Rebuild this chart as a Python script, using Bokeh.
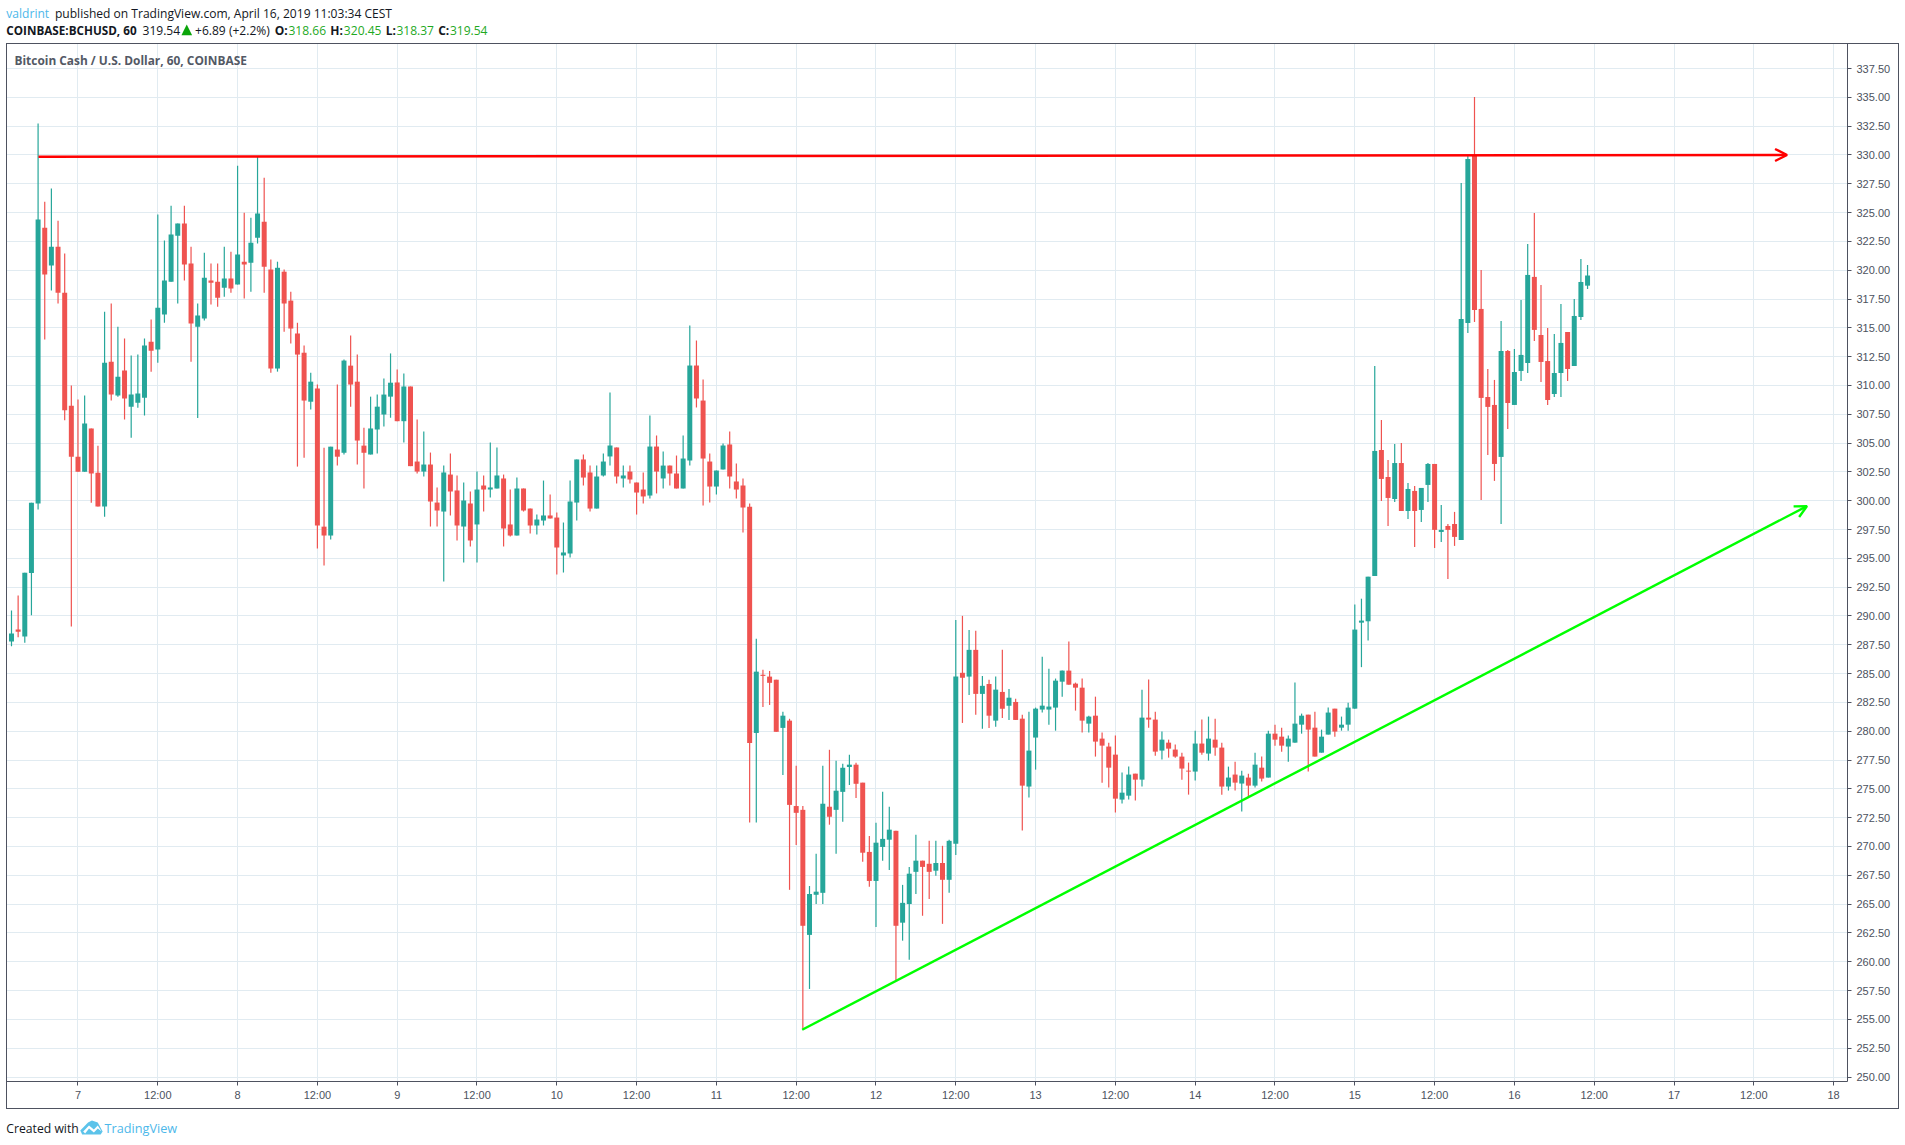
from bokeh.embed import file_html
from bokeh.resources import INLINE
from bokeh.plotting import figure
from bokeh.layouts import column
from bokeh.models import (ColumnDataSource, FixedTicker, NumeralTickFormatter, Label, Arrow, OpenHead,
                          Range1d, Div)

# ---- data -------------------------------------------------------------------
first_hour = -10  # first candle, hours relative to April 7, 00:00
opens = [287.78,288.83,288.21,293.72,299.76,323.68,320.40,322.04,318.04,308.25,
303.82,302.52,306.27,302.43,299.49,312.06,309.12,311.29,308.16,308.50,
308.93,313.80,313.12,316.15,319.00,323.00,324.05,320.58,315.10,315.81,
319.10,319.00,318.48,319.28,318.76,320.74,320.65,322.81,324.21,320.06,
311.47,319.87,317.36,314.51,312.84,308.59,309.74,297.75,296.98,304.44,
304.16,311.72,310.33,304.78,304.01,306.18,307.48,309.03,310.26,306.90,
309.91,303.40,302.53,303.14,299.84,299.06,302.27,300.89,297.76,299.76,
297.94,301.32,300.97,301.06,301.93,297.94,296.98,301.06,299.32,297.85,
298.28,298.72,298.54,295.25,295.42,299.84,303.58,302.45,299.32,302.19,
303.84,304.62,301.93,302.53,301.58,300.97,300.45,304.70,301.93,303.05,
302.36,301.06,303.49,311.73,308.69,303.40,301.23,302.71,304.88,301.67,
301.32,299.48,279.85,284.90,284.74,284.47,280.29,280.92,273.51,273.18,
262.33,265.81,265.98,273.45,273.18,274.74,276.90,277.10,275.54,269.53,
267.01,269.96,270.59,271.36,263.39,265.01,267.80,268.77,268.50,267.90,
268.57,267.11,270.23,285.07,284.74,287.06,283.24,284.10,280.92,283.41,
282.21,282.54,281.09,275.20,279.45,281.88,281.88,282.05,284.30,285.26,
284.13,283.78,280.66,281.35,279.36,278.67,277.97,274.07,274.41,276.32,
275.80,281.18,281.01,278.32,279.01,278.41,277.80,276.58,276.50,278.93,
278.06,279.27,278.58,275.20,276.24,275.46,275.98,275.28,276.84,275.98,
279.79,279.53,278.67,279.01,280.57,281.44,280.31,278.14,279.71,281.96,
280.31,280.57,281.96,289.42,289.54,293.47,304.40,302.06,300.15,303.27,
299.11,300.85,299.20,301.37,303.19,297.29,297.81,297.98,296.60,315.42,
330.00,316.64,309.00,308.31,303.80,312.99,308.31,311.26,311.95,319.42,
314.38,312.12,309.26,311.08,314.64,311.69,315.94,318.66]
highs = [290.47,291.77,293.75,299.83,332.73,325.94,327.09,324.30,321.45,309.99,
308.78,309.12,306.27,304.78,316.40,317.11,315.10,314.08,312.59,312.68,
314.08,315.72,324.83,322.57,325.60,324.05,325.60,322.04,317.11,321.51,
320.58,320.58,322.04,321.61,329.07,324.98,324.55,329.91,328.02,320.92,
320.74,320.06,318.14,315.44,313.46,311.10,310.08,304.60,304.69,310.08,
312.25,314.33,312.68,306.33,309.03,309.21,310.61,312.78,311.38,311.04,
309.91,307.05,306.00,304.18,301.15,303.05,304.10,302.19,301.58,300.80,
302.53,302.19,305.05,304.62,302.27,300.97,302.01,301.06,299.32,298.80,
301.75,300.54,298.98,298.11,301.75,303.58,304.01,303.05,303.05,304.10,
309.39,304.62,303.05,303.05,301.58,302.45,307.39,305.66,304.27,303.05,
303.92,305.66,315.20,313.90,310.52,304.10,302.62,304.96,306.00,303.23,
301.93,299.76,288.02,285.33,285.23,284.47,281.68,281.08,277.00,273.51,
266.57,269.36,277.00,278.39,277.43,277.17,277.96,277.27,275.54,270.92,
272.05,274.74,273.45,271.36,266.67,268.23,271.02,268.77,270.49,270.49,
270.06,270.59,289.65,290.01,288.79,288.72,284.80,284.47,284.74,287.06,
283.67,282.81,281.44,281.70,282.05,286.47,285.43,284.57,285.26,287.78,
284.22,284.57,281.35,283.00,279.88,279.01,279.62,276.41,276.93,276.32,
283.61,284.48,281.70,279.97,279.27,278.84,278.14,277.28,280.05,281.01,
281.27,281.09,279.01,276.93,277.36,276.58,276.32,278.14,277.80,280.05,
280.57,280.31,279.62,284.22,281.53,281.44,281.70,280.14,282.05,281.96,
281.27,282.48,290.99,291.50,293.41,311.69,307.01,303.53,304.93,305.01,
301.54,301.28,301.11,303.27,303.19,299.63,297.98,299.03,327.57,330.00,
335.03,320.02,311.43,310.48,315.60,313.08,313.17,317.42,322.28,324.97,
318.72,314.99,314.47,317.07,314.64,317.51,320.98,320.45]
lows = [287.37,288.15,287.68,290.07,299.24,313.98,318.23,317.11,306.98,289.08,
302.52,302.52,299.83,299.49,298.62,308.69,309.03,307.04,305.46,308.07,
307.39,311.20,311.97,315.44,319.00,317.11,319.10,312.06,307.17,315.63,
317.02,316.83,317.70,318.04,318.76,317.55,318.14,322.32,318.04,311.10,
311.20,314.67,313.64,302.96,303.73,307.91,295.86,294.37,296.64,303.05,
304.01,308.16,303.14,301.07,304.01,304.10,306.43,307.20,306.90,305.05,
303.00,302.36,302.10,297.76,297.76,292.99,298.72,296.55,294.64,296.03,
294.64,299.06,300.28,301.06,296.03,296.89,296.98,299.06,297.16,297.07,
297.85,298.46,293.60,293.77,295.07,298.28,301.32,299.06,299.32,302.10,
303.05,301.49,301.15,301.49,298.80,299.76,300.19,300.63,301.06,301.32,
301.06,301.06,303.05,308.09,299.58,299.84,300.54,302.71,301.06,300.19,
297.24,272.09,272.09,282.11,282.28,279.95,276.20,266.24,270.13,254.19,
257.64,265.01,265.01,271.89,269.36,272.15,275.34,274.21,268.67,266.51,
263.02,268.77,267.97,258.31,261.83,260.17,265.88,263.99,265.45,267.47,
263.29,265.98,269.26,280.72,283.14,281.42,280.22,280.29,280.39,281.15,
280.98,280.98,271.38,274.24,276.67,281.62,280.57,280.05,283.00,284.04,
281.79,279.88,279.88,277.80,275.54,275.11,272.94,273.72,274.07,273.98,
275.20,280.31,277.88,277.54,277.71,277.71,275.80,274.50,275.72,277.97,
277.45,277.88,274.50,274.85,274.85,273.03,274.33,275.11,275.63,275.98,
278.75,278.23,277.36,279.01,279.79,276.50,277.80,278.14,279.71,279.53,
280.05,280.05,281.96,285.56,287.87,293.47,299.98,297.81,299.89,299.11,
298.42,295.99,298.16,299.89,295.90,296.42,293.21,296.08,296.60,314.56,
315.51,300.07,303.97,301.72,297.98,306.23,308.31,310.39,311.08,313.86,
310.31,308.31,309.00,309.00,310.39,311.69,315.68,318.37]
closes = [288.49,288.64,293.75,299.83,324.39,319.62,322.04,318.04,307.85,303.82,
302.52,306.70,302.37,299.49,311.97,309.21,310.76,308.87,309.21,309.31,
313.46,313.02,316.74,319.10,323.09,324.05,320.49,315.38,316.06,319.34,
318.91,317.61,319.28,318.41,321.36,320.49,322.38,324.92,320.30,311.47,
320.21,317.11,314.94,312.68,308.69,310.33,297.84,296.98,304.69,303.82,
312.16,310.08,305.22,304.16,306.27,308.16,309.21,310.24,306.90,309.91,
303.00,302.53,303.14,299.93,299.15,302.45,300.80,297.85,300.02,296.55,
300.97,300.97,301.15,302.19,297.59,296.98,301.06,299.15,297.85,298.37,
298.72,298.46,295.94,295.51,299.93,303.58,302.01,299.32,302.10,303.40,
304.79,302.10,302.19,301.84,300.71,300.37,304.70,302.53,303.05,302.36,
301.06,303.66,311.73,308.87,303.66,301.23,302.62,304.79,302.10,300.97,
299.41,278.99,285.17,284.80,284.20,279.95,281.35,273.61,272.92,263.12,
265.88,266.08,273.71,272.58,274.84,276.83,277.10,275.44,269.46,267.01,
270.33,270.66,271.46,263.12,265.11,267.64,268.77,268.23,267.80,268.57,
267.11,270.49,284.74,284.64,287.06,283.24,283.94,281.35,283.61,281.95,
282.91,280.98,275.28,278.32,281.96,282.22,282.14,284.39,285.26,284.04,
283.78,280.92,281.27,279.10,278.75,276.84,274.15,274.67,276.24,275.80,
281.18,281.01,278.23,279.27,278.49,277.80,276.76,276.50,278.93,278.14,
279.36,278.58,275.20,275.98,275.54,276.15,275.28,277.10,275.89,279.79,
279.27,278.75,279.36,280.66,281.35,280.14,277.80,279.53,281.62,279.97,
280.57,282.05,288.82,289.60,293.41,304.32,301.89,300.24,303.27,299.11,
301.02,299.11,301.11,303.19,297.47,297.47,297.47,296.86,315.77,329.65,
316.55,308.92,308.14,303.19,312.99,308.48,311.17,312.65,319.59,314.82,
312.04,308.74,311.08,313.69,311.43,316.03,318.98,319.54]

tick_hours = [0,12,24,36,48,60,72,84,96,108,120,132,144,156,168,180,192,204,216,228,240,252,264]
tick_labels = ["7","12:00","8","12:00","9","12:00","10","12:00","11","12:00","12","12:00",
               "13","12:00","14","12:00","15","12:00","16","12:00","17","12:00","18"]
price_ticks = [250,252.5,255,257.5,260,262.5,265,267.5,270,272.5,275,277.5,280,282.5,285,287.5,290,
               292.5,295,297.5,300,302.5,305,307.5,310,312.5,315,317.5,320,322.5,325,327.5,330,
               332.5,335,337.5]
resistance_hours = [-5.94, 257.0]
resistance_prices = [329.85, 330.0]
support_hours = [108.9, 260.0]
support_prices = [254.1, 299.53]

# ---- layout constants (pixels in the page) -----------------------------------
UP, DOWN = "#26a69a", "#ef5350"
INK, AXIS = "#131722", "#4e5260"
HEAD_H, MAIN_H, FOOT_H = 43, 1066, 36
MAIN_L, MAIN_W = 6, 1893
FRAME_B = 1081

main = figure(width=MAIN_W, height=MAIN_H, output_backend="svg", toolbar_location=None,
              x_range=Range1d(-10.75, 266.09), y_range=Range1d(249.61, 339.67),
              y_axis_location="right", min_border_left=0, min_border_right=52,
              min_border_top=0, min_border_bottom=28, background_fill_color="white",
              outline_line_color=None, margin=(0, 0, 0, MAIN_L))

n = len(opens)
hours = [first_hour + i for i in range(n)]
src = ColumnDataSource(dict(
    x=hours, high=highs, low=lows,
    top=[max(o, c) for o, c in zip(opens, closes)],
    bottom=[min(o, c) for o, c in zip(opens, closes)],
    color=[UP if c >= o else DOWN for o, c in zip(opens, closes)],
))
main.segment("x", "high", "x", "low", source=src, color="color", line_width=1.2)
main.vbar("x", width=0.75, top="top", bottom="bottom", source=src, fill_color="color", line_color=None)

main.xaxis.ticker = FixedTicker(ticks=tick_hours)
main.xaxis.major_label_overrides = dict(zip(tick_hours, tick_labels))
main.yaxis.ticker = FixedTicker(ticks=price_ticks)
main.yaxis.formatter = NumeralTickFormatter(format="0.00")
main.xgrid.ticker = FixedTicker(ticks=tick_hours)
main.ygrid.ticker = FixedTicker(ticks=price_ticks)
main.grid.grid_line_color = "#e1ebf1"
for ax in (main.xaxis, main.yaxis):
    ax.axis_line_color = AXIS
    ax.major_tick_line_color = AXIS
    ax.major_tick_in = 0
    ax.major_tick_out = 4
    ax.minor_tick_line_color = None
    ax.major_label_text_color = "#4c525e"
    ax.major_label_text_font = "Liberation Sans"
    ax.major_label_text_font_size = "11px"
main.xaxis.major_label_standoff = 3
main.yaxis.major_label_standoff = 5

main.add_layout(Arrow(x_start=resistance_hours[0], y_start=resistance_prices[0],
                      x_end=resistance_hours[1], y_end=resistance_prices[1],
                      line_color="#ff0000", line_width=2.4,
                      end=OpenHead(size=12, line_color="#ff0000", line_width=2.4)))
main.add_layout(Arrow(x_start=support_hours[0], y_start=support_prices[0],
                      x_end=support_hours[1], y_end=support_prices[1],
                      line_color="#00ff00", line_width=2.4,
                      end=OpenHead(size=12, line_color="#00ff00", line_width=2.4)))
main.add_layout(Label(x=14-MAIN_L, y=FRAME_B-59, x_units="screen", y_units="screen",
                      text="Bitcoin Cash / U.S. Dollar, 60, COINBASE", text_color="#535965",
                      text_font="Open Sans", text_font_size="11.9px", text_font_style="bold",
                      text_baseline="middle"))

def strip(h, ybottom, ytop):
    f = figure(width=1905, height=h, output_backend="svg", toolbar_location=None,
               x_range=Range1d(0, 1905), y_range=Range1d(ybottom, ytop), x_axis_type=None, y_axis_type=None,
               min_border=0, outline_line_color=None)
    f.grid.visible = False
    return f

header = strip(HEAD_H, HEAD_H, 0)
footer = strip(FOOT_H, HEAD_H+MAIN_H+FOOT_H, HEAD_H+MAIN_H)

def text(f, x, y, s, color=INK, size="12.05px", style="normal", font="Open Sans"):
    f.add_layout(Label(x=x, y=y, text=s, text_color=color, text_font_size=size,
                       text_font_style=style, text_font=font, text_baseline="middle", text_align="left"))

GREEN = "#1fa91f"
BLUE = "#4db8ea"
text(header, 6, 12.5, "valdrint", BLUE)
text(header, 56, 12.5, "published on TradingView.com, April 16, 2019 11:03:34 CEST")
text(header, 6, 29.5, "COINBASE:BCHUSD, 60", style="bold", size="11.7px")
text(header, 146, 29.5, "319.54")
header.patch([186, 191.5, 197], [34.7, 24, 34.7], fill_color="#0aa50a", line_color=None)
text(header, 200, 29.5, "+6.89 (+2.2%)")
text(header, 282, 29.5, "O:", style="bold", size="12px")
text(header, 296, 29.5, "318.66", GREEN)
text(header, 339, 29.5, "H:", style="bold", size="12px")
text(header, 353, 29.5, "320.45", GREEN)
text(header, 396, 29.5, "L:", style="bold", size="12px")
text(header, 407, 29.5, "318.37", GREEN)
text(header, 450, 29.5, "C:", style="bold", size="12px")
text(header, 462, 29.5, "319.54", GREEN)
text(footer, 6, 1127.5, "Created with", size="12.2px")
text(footer, 107, 1127.5, "TradingView", BLUE, size="12.7px")

footer.patch([82, 90, 94, 100, 105, 103, 84], [1130, 1122, 1120, 1122, 1131, 1134, 1134],
             fill_color="#5cc3ea", line_color=None)
footer.patch([85, 91, 96, 100, 104, 100, 96, 91, 87], [1131, 1125, 1129, 1125, 1131, 1128, 1132, 1128, 1133],
             fill_color="white", line_color=None)

frame = Div(text="", width=MAIN_W, height=MAIN_H, margin=0,
            styles={"position": "absolute", "left": f"{MAIN_L}px", "top": f"{HEAD_H}px",
                    "border": f"1px solid {AXIS}", "box-sizing": "border-box",
                    "pointer-events": "none", "z-index": "10"})

page = column(header, main, footer, frame, spacing=0, margin=0,
              styles={"position": "absolute", "left": "0px", "top": "0px"})
open("out.html", "w").write(file_html(page, INLINE))
